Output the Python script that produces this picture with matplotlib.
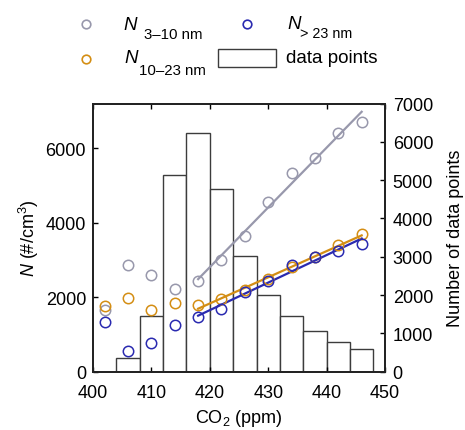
import numpy as np
import matplotlib
matplotlib.use("Agg")
import matplotlib.pyplot as plt
from matplotlib.patches import Rectangle
from matplotlib.lines import Line2D

plt.rcParams['font.family'] = ['Liberation Sans', 'DejaVu Sans']
plt.rcParams['mathtext.fontset'] = 'custom'
plt.rcParams['mathtext.rm'] = 'Liberation Sans'
plt.rcParams['mathtext.it'] = 'Liberation Sans:italic'
plt.rcParams['mathtext.bf'] = 'Liberation Sans:bold'

# CO2 bin centres (ppm)
co2 = [402, 406, 410, 414, 418, 422, 426, 430, 434, 438, 442, 446]
# Mean particle number concentrations (#/cm3)
n_3_10 = [1650, 2870, 2600, 2210, 2440, 3000, 3650, 4570, 5345, 5750, 6400, 6715]
n_10_23 = [1760, 1980, 1660, 1855, 1785, 1945, 2195, 2485, 2800, 3080, 3415, 3690]
n_gt_23 = [1340, 560, 775, 1250, 1455, 1680, 2125, 2440, 2865, 3075, 3245, 3425]
# Histogram of data points per CO2 bin
hist_centres = [406, 410, 414, 418, 422, 426, 430, 434, 438, 442, 446]
hist_counts = [345, 1450, 5150, 6235, 4770, 3030, 2000, 1445, 1065, 765, 590]
bin_width = 4
fit_start = 418

# legend text pieces
sub_3_10 = '3–10 nm'
sub_10_23 = '10–23 nm'
sub_gt_23 = '> 23 nm'
hist_label = 'data points'

c_gray = '#9898AC'
c_orange = '#D48E14'
c_blue = '#2A2AB0'
c_edge = '#3C3C3C'

W, H = 465, 431
fig = plt.figure(figsize=(W / 100, H / 100), dpi=100)
ax = fig.add_axes([0.2, 0.1357, 0.628, 0.6213])
ax2 = ax.twinx()

# histogram on the right axis, drawn behind the scatter
ax2.bar(hist_centres, hist_counts, width=bin_width, facecolor='white',
        edgecolor=c_edge, linewidth=1.0, zorder=1)
ax2.set_ylim(0, 7000)
ax2.set_yticks(np.arange(0, 7001, 1000))
ax2.set_ylabel('Number of data points', fontsize=13, labelpad=10)
ax2.tick_params(axis='y', direction='in', length=3.5, labelsize=13, width=1,
                pad=5.5)

ax.set_zorder(ax2.get_zorder() + 1)
ax.patch.set_visible(False)

x = np.array(co2)
series = [(n_3_10, c_gray), (n_10_23, c_orange), (n_gt_23, c_blue)]
for ys, col in series:
    ys = np.array(ys)
    ax.plot(x, ys, 'o', mfc='none', mec=col, ms=7.5, mew=1.1, zorder=3)
    sel = x >= fit_start
    k, b = np.polyfit(x[sel], ys[sel], 1)
    xf = np.array([x[sel].min(), x[sel].max()])
    ax.plot(xf, k * xf + b, '-', color=col, lw=1.6, zorder=2)

ax.set_xlim(400, 450)
ax.set_ylim(0, 7200)
ax.set_xticks(np.arange(400, 451, 10))
ax.set_yticks([0, 2000, 4000, 6000])
ax.set_xlabel('CO$_2$ (ppm)', fontsize=13, labelpad=4)
ax.set_ylabel('$N$ (#/cm$^3$)', fontsize=13, labelpad=3)
ax.tick_params(axis='both', direction='in', length=3.5, labelsize=13, width=1,
               top=True)
ax.tick_params(axis='x', pad=9)
ax.tick_params(axis='y', pad=5)
for a in (ax, ax2):
    for s in a.spines.values():
        s.set_linewidth(1.3)
        s.set_color('#222222')


# legend above the axes, laid out in figure pixels
def fx(px):
    return px / W


def fy(py):
    return 1 - py / H


def marker(px, py, col):
    fig.add_artist(Line2D([fx(px)], [fy(py)], transform=fig.transFigure,
                          ls='none', marker='o', mfc='none', mec=col,
                          ms=6.2, mew=1.2))


def n_label(px, py_base, sub, sub_px, sub_base, sub_size):
    fig.text(fx(px), fy(py_base), 'N', style='italic', fontsize=13.5,
             va='baseline', ha='left')
    fig.text(fx(sub_px), fy(sub_base), sub, fontsize=sub_size,
             va='baseline', ha='left')


marker(86, 25, c_gray)
n_label(123, 30, sub_3_10, 144, 39, 10.8)
marker(86, 60, c_orange)
n_label(124, 63, sub_10_23, 139, 75, 10.8)
marker(247, 25, c_blue)
n_label(287, 29, sub_gt_23, 300, 38, 10.3)
fig.add_artist(Rectangle((fx(218), fy(68)), fx(276) - fx(218), fy(50) - fy(68),
                         transform=fig.transFigure, facecolor='white',
                         edgecolor=c_edge, linewidth=1.0))
fig.text(fx(286), fy(63), hist_label, fontsize=13.5, va='baseline', ha='left')

fig.savefig('out.png', dpi=100)
